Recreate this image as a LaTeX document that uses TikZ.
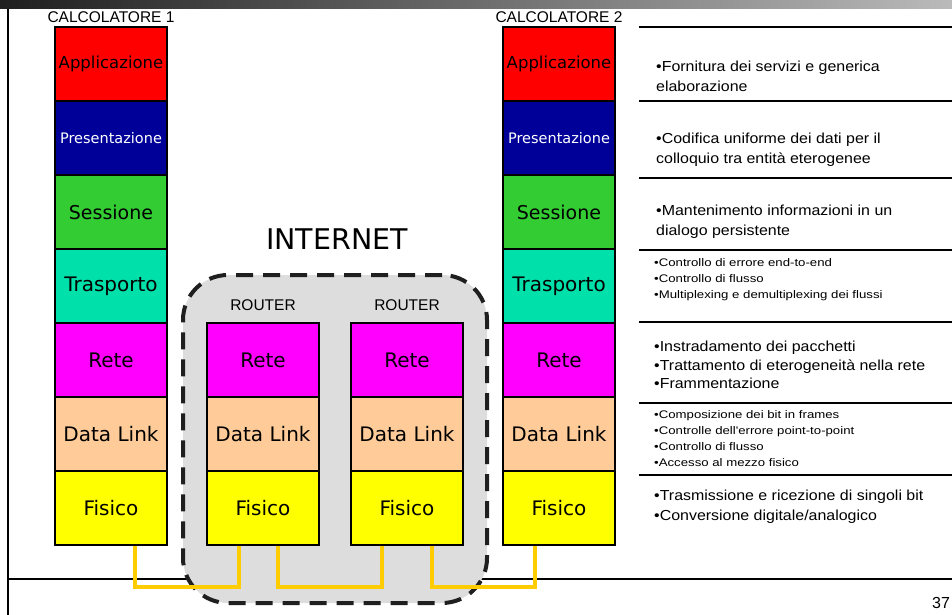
\documentclass[tikz,border=0pt]{standalone}
\usepackage{fontspec}
\setmainfont{Liberation Sans}
\newfontfamily\comic{DejaVu Sans}
\newfontfamily\descfont{Liberation Sans}[FakeStretch=1.1]
\newfontfamily\descsfont{Liberation Sans}[FakeStretch=1.2]
\definecolor{cApp}{HTML}{FF0000}
\definecolor{cPres}{HTML}{000099}
\definecolor{cSess}{HTML}{33CC33}
\definecolor{cTrasp}{HTML}{00E0AA}
\definecolor{cRete}{HTML}{FF00FF}
\definecolor{cDL}{HTML}{FFCC99}
\definecolor{cFis}{HTML}{FFFF00}
\definecolor{cLink}{HTML}{FFCC00}
\definecolor{cNet}{HTML}{DDDDDD}
\begin{document}
\begin{tikzpicture}[x=1pt,y=-1pt,
  layer/.style={draw=black,line width=1.3pt,minimum width=112pt,minimum height=74pt,inner sep=0pt,
    font=\comic\fontsize{20}{23}\selectfont},
  rulel/.style={line width=2pt,black},
  link/.style={draw=cLink,line width=4pt},
  desc/.style={anchor=west,align=left,inner sep=0pt,font=\descfont\fontsize{14.5}{20}\selectfont},
  descs/.style={anchor=west,align=left,inner sep=0pt,font=\descsfont\fontsize{11}{16}\selectfont},
  lab/.style={inner sep=0pt,font=\fontsize{15.5}{18}\selectfont}]
\useasboundingbox (0,0) rectangle (952,615);
% slide frame
\shade[left color=black!88,right color=black!27] (0,0) rectangle (952,9);
\draw[line width=2pt] (8,9) -- (8,615);
\draw[line width=2pt] (8,579) -- (952,579);
% internet cloud
\node[draw=black!88,fill=cNet,line width=4pt,dash pattern=on 17pt off 10pt,rounded corners=45pt,
  minimum width=304pt,minimum height=328pt] (inet) at (335,439) {};
\node[font=\comic\fontsize{28.5}{32}\selectfont,inner sep=0pt] (inettxt) at (337,239) {INTERNET};
% computer 1
\node[lab] (c1lab) at (111,17) {CALCOLATORE 1};
\node[layer,fill=cApp,font=\comic\fontsize{16.5}{20}\selectfont] (a1) at (111,64) {Applicazione};
\node[layer,fill=cPres,text=white,font=\comic\fontsize{14.5}{18}\selectfont] (p1) at (111,138) {Presentazione};
\node[layer,fill=cSess,font=\comic\fontsize{19}{22}\selectfont] (s1) at (111,212) {Sessione};
\node[layer,fill=cTrasp] (t1) at (111,286) {Trasporto};
\node[layer,fill=cRete] (r1) at (111,360) {Rete};
\node[layer,fill=cDL] (d1) at (111,434) {Data Link};
\node[layer,fill=cFis] (f1) at (111,508) {Fisico};
% computer 2
\node[lab] (c2lab) at (559,17) {CALCOLATORE 2};
\node[layer,fill=cApp,font=\comic\fontsize{16.5}{20}\selectfont] (a2) at (559,64) {Applicazione};
\node[layer,fill=cPres,text=white,font=\comic\fontsize{14.5}{18}\selectfont] (p2) at (559,138) {Presentazione};
\node[layer,fill=cSess,font=\comic\fontsize{19}{22}\selectfont] (s2) at (559,212) {Sessione};
\node[layer,fill=cTrasp] (t2) at (559,286) {Trasporto};
\node[layer,fill=cRete] (r2) at (559,360) {Rete};
\node[layer,fill=cDL] (d2) at (559,434) {Data Link};
\node[layer,fill=cFis] (f2) at (559,508) {Fisico};
% router 1
\node[lab] (ro1lab) at (263,305) {ROUTER};
\node[layer,fill=cRete] (rr1) at (263,360) {Rete};
\node[layer,fill=cDL] (rd1) at (263,434) {Data Link};
\node[layer,fill=cFis] (rf1) at (263,508) {Fisico};
% router 2
\node[lab] (ro2lab) at (407,305) {ROUTER};
\node[layer,fill=cRete] (rr2) at (407,360) {Rete};
\node[layer,fill=cDL] (rd2) at (407,434) {Data Link};
\node[layer,fill=cFis] (rf2) at (407,508) {Fisico};
% physical links
\draw[link] ([xshift=24pt]f1.south) -- ++(0,41) -| ([xshift=-24pt]rf1.south);
\draw[link] ([xshift=15pt]rf1.south) -- ++(0,41) -| ([xshift=-25pt]rf2.south);
\draw[link] ([xshift=25pt]rf2.south) -- ++(0,41) -| ([xshift=-24pt]f2.south);
% description table
\foreach \yy in {27,101,178,250,322,403,475}
  \draw[rulel] (639,\yy) -- (952,\yy);
\node[desc] (dApp) at (656,76) {•Fornitura dei servizi e generica\\elaborazione};
\node[desc] (dPres) at (656,150) {•Codifica uniforme dei dati per il\\colloquio tra entità eterogenee};
\node[desc] (dSess) at (656,222) {•Mantenimento informazioni in un\\dialogo persistente};
\node[descs] (dTrasp) at (654,280) {•Controllo di errore end-to-end\\•Controllo di flusso\\•Multiplexing e demultiplexing dei flussi};
\node[desc,font=\descfont\fontsize{14.5}{18.5}\selectfont] (dRete) at (654,365) {•Instradamento dei pacchetti\\•Trattamento di eterogeneità nella rete\\•Frammentazione};
\node[descs] (dDL) at (654,439) {•Composizione dei bit in frames\\•Controlle dell'errore point-to-point\\•Controllo di flusso\\•Accesso al mezzo  fisico};
\node[desc] (dFis) at (654,507) {•Trasmissione e ricezione di singoli bit\\•Conversione digitale/analogico};
% page number
\node[anchor=west,inner sep=0pt,font=\fontsize{16}{18}\selectfont] (pnum) at (932,603) {37};
\end{tikzpicture}
\end{document}
